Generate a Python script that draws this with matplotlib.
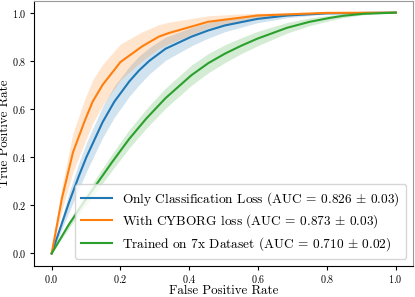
import matplotlib
matplotlib.use("Agg")
import matplotlib.pyplot as plt
import numpy as np

plt.rcParams['font.family'] = 'serif'
plt.rcParams['font.serif'] = ['cmr10']
plt.rcParams['mathtext.fontset'] = 'cm'
plt.rcParams['axes.formatter.use_mathtext'] = True

# Only Classification Loss (blue)
fpr_cls = [0, 0.05, 0.08, 0.101, 0.148, 0.182, 0.226, 0.254, 0.284, 0.331, 0.406, 0.455, 0.504, 0.598, 0.684, 0.799, 1.0]
tpr_cls = [0, 0.21, 0.325, 0.40, 0.545, 0.63, 0.715, 0.76, 0.80, 0.85, 0.90, 0.926, 0.947, 0.974, 0.988, 0.997, 1.0]
std_cls = [0, 0.04, 0.055, 0.06, 0.065, 0.065, 0.062, 0.06, 0.055, 0.048, 0.038, 0.032, 0.026, 0.016, 0.009, 0.003, 0]

# With CYBORG loss (orange)
fpr_cyb = [0, 0.03, 0.062, 0.096, 0.119, 0.148, 0.2, 0.263, 0.311, 0.34, 0.455, 0.598, 0.799, 1.0]
tpr_cyb = [0, 0.23, 0.42, 0.55, 0.63, 0.70, 0.795, 0.86, 0.90, 0.915, 0.962, 0.988, 0.999, 1.0]
std_cyb = [0, 0.05, 0.08, 0.09, 0.09, 0.085, 0.075, 0.06, 0.05, 0.045, 0.025, 0.01, 0.002, 0]

# Trained on 7x Dataset (green)
fpr_7x = [0, 0.05, 0.09, 0.139, 0.176, 0.225, 0.275, 0.331, 0.406, 0.455, 0.504, 0.55, 0.598, 0.684, 0.75, 0.808, 0.848, 0.905, 1.0]
tpr_7x = [0, 0.12, 0.205, 0.305, 0.38, 0.475, 0.56, 0.645, 0.74, 0.79, 0.83, 0.862, 0.892, 0.937, 0.962, 0.978, 0.987, 0.995, 1.0]
std_7x = [0, 0.015, 0.022, 0.03, 0.034, 0.038, 0.04, 0.042, 0.042, 0.04, 0.037, 0.033, 0.03, 0.022, 0.016, 0.011, 0.008, 0.004, 0]

labels = [
    r"Only Classification Loss (AUC = 0.826 $\pm$ 0.03)",
    r"With CYBORG loss (AUC = 0.873 $\pm$ 0.03)",
    r"Trained on 7x Dataset (AUC = 0.710 $\pm$ 0.02)",
]
colors = ["#1f77b4", "#ff7f0e", "#2ca02c"]
series = [(fpr_cls, tpr_cls, std_cls), (fpr_cyb, tpr_cyb, std_cyb), (fpr_7x, tpr_7x, std_7x)]

fig = plt.figure(figsize=(4.15, 2.97), dpi=100)
ax = fig.add_axes([0.083, 0.106, 0.912, 0.892])

for (x, y, s), lab, c in zip(series, labels, colors):
    x = np.array(x); y = np.array(y); s = np.array(s)
    ax.plot(x, y, color=c, lw=1.5, label=lab)
    ax.fill_between(x, np.clip(y - s, 0, 1), np.clip(y + s, 0, 1), color=c, alpha=0.2, lw=0)

ax.set_xticks([0, 0.2, 0.4, 0.6, 0.8, 1.0])
ax.set_yticks([0, 0.2, 0.4, 0.6, 0.8, 1.0])
ax.tick_params(labelsize=7.3, length=3, width=0.8, pad=2.5)
ax.set_xlabel("False Positive Rate", fontsize=9.3, labelpad=0.0)
ax.set_ylabel("True Positive Rate", fontsize=9.3)
ax.yaxis.set_label_coords(-0.063, 0.5)
for side in ['top', 'right']:
    ax.spines[side].set_color('#999999')
ax.legend(loc='lower right', fontsize=9.6, handlelength=2.3, borderaxespad=0.5,
          labelspacing=0.35, borderpad=0.45)

fig.savefig("out.png", dpi=100)
